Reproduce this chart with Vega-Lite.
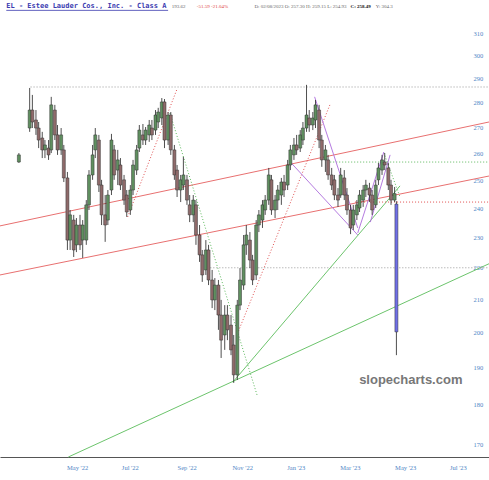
{
  "$schema": "https://vega.github.io/schema/vega-lite/v6.json",
  "width": 489,
  "height": 457,
  "autosize": "none",
  "padding": {"left": 0, "top": 0, "right": 0, "bottom": 23},
  "background": "white",
  "config": {"view": {"stroke": null}},
  "datasets": {
    "candles": [
      {"date":"2022-03-09","o":256.8,"h":260.2,"l":256.5,"c":259.5},
      {"date":"2022-03-21","o":269.9,"h":286.2,"l":268.4,"c":277.1},
      {"date":"2022-03-24","o":277.1,"h":283.3,"l":269.9,"c":272.3},
      {"date":"2022-03-28","o":273.1,"h":277.1,"l":267.2,"c":269.9},
      {"date":"2022-03-31","o":269.9,"h":272.3,"l":262.1,"c":265.2},
      {"date":"2022-04-04","o":266.0,"h":268.4,"l":258.3,"c":261.4},
      {"date":"2022-04-07","o":261.4,"h":265.2,"l":258.3,"c":263.3},
      {"date":"2022-04-11","o":262.1,"h":265.2,"l":257.6,"c":259.5},
      {"date":"2022-04-14","o":261.4,"h":282.5,"l":260.2,"c":279.2},
      {"date":"2022-04-18","o":277.1,"h":279.2,"l":265.2,"c":267.2},
      {"date":"2022-04-21","o":267.2,"h":271.1,"l":259.5,"c":261.4},
      {"date":"2022-04-25","o":261.4,"h":269.9,"l":259.5,"c":267.2},
      {"date":"2022-04-28","o":261.4,"h":263.3,"l":249.4,"c":250.9},
      {"date":"2022-05-02","o":250.9,"h":253.1,"l":225.8,"c":229.1},
      {"date":"2022-05-05","o":229.1,"h":239.4,"l":225.8,"c":237.7},
      {"date":"2022-05-09","o":235.9,"h":237.7,"l":223.5,"c":225.8},
      {"date":"2022-05-12","o":227.5,"h":236.6,"l":225.1,"c":234.2},
      {"date":"2022-05-16","o":234.2,"h":237.7,"l":225.8,"c":227.5},
      {"date":"2022-05-19","o":229.1,"h":235.9,"l":223.2,"c":234.2},
      {"date":"2022-05-23","o":229.1,"h":242.9,"l":227.5,"c":241.2},
      {"date":"2022-05-26","o":241.2,"h":253.8,"l":239.4,"c":252.0},
      {"date":"2022-05-30","o":252.0,"h":263.3,"l":250.2,"c":259.5},
      {"date":"2022-06-02","o":261.4,"h":269.9,"l":258.3,"c":267.2},
      {"date":"2022-06-06","o":265.2,"h":267.2,"l":245.8,"c":248.3},
      {"date":"2022-06-09","o":248.3,"h":250.2,"l":234.2,"c":237.7},
      {"date":"2022-06-13","o":237.7,"h":244.7,"l":228.5,"c":234.2},
      {"date":"2022-06-16","o":235.9,"h":246.5,"l":234.2,"c":244.7},
      {"date":"2022-06-20","o":246.5,"h":267.6,"l":244.7,"c":265.2},
      {"date":"2022-06-23","o":261.4,"h":263.3,"l":250.2,"c":252.0},
      {"date":"2022-06-27","o":253.8,"h":261.4,"l":248.3,"c":257.6},
      {"date":"2022-06-30","o":255.7,"h":258.3,"l":246.5,"c":248.3},
      {"date":"2022-07-04","o":250.2,"h":252.0,"l":241.2,"c":242.9},
      {"date":"2022-07-07","o":244.7,"h":246.5,"l":237.0,"c":238.7},
      {"date":"2022-07-11","o":239.4,"h":248.3,"l":237.7,"c":246.5},
      {"date":"2022-07-14","o":246.5,"h":257.6,"l":244.7,"c":255.7},
      {"date":"2022-07-18","o":253.8,"h":263.3,"l":252.0,"c":261.4},
      {"date":"2022-07-21","o":262.1,"h":271.1,"l":260.6,"c":269.1},
      {"date":"2022-07-25","o":267.2,"h":271.5,"l":263.3,"c":265.2},
      {"date":"2022-07-28","o":265.2,"h":270.3,"l":263.3,"c":269.1},
      {"date":"2022-08-01","o":267.2,"h":273.1,"l":264.5,"c":271.1},
      {"date":"2022-08-04","o":269.9,"h":273.1,"l":265.2,"c":267.2},
      {"date":"2022-08-08","o":269.1,"h":277.1,"l":267.2,"c":275.1},
      {"date":"2022-08-11","o":272.3,"h":278.0,"l":269.9,"c":276.3},
      {"date":"2022-08-15","o":273.9,"h":282.0,"l":271.1,"c":280.4},
      {"date":"2022-08-18","o":280.4,"h":281.6,"l":262.1,"c":265.2},
      {"date":"2022-08-22","o":265.2,"h":276.3,"l":263.3,"c":275.1},
      {"date":"2022-08-25","o":275.1,"h":276.3,"l":259.5,"c":261.4},
      {"date":"2022-08-29","o":261.4,"h":263.3,"l":250.2,"c":252.0},
      {"date":"2022-09-01","o":253.8,"h":255.7,"l":244.0,"c":246.5},
      {"date":"2022-09-05","o":246.5,"h":252.0,"l":242.2,"c":250.2},
      {"date":"2022-09-08","o":248.3,"h":258.7,"l":246.5,"c":252.0},
      {"date":"2022-09-12","o":250.2,"h":252.0,"l":241.2,"c":242.9},
      {"date":"2022-09-15","o":241.2,"h":244.7,"l":235.2,"c":237.7},
      {"date":"2022-09-19","o":237.7,"h":244.7,"l":235.2,"c":242.9},
      {"date":"2022-09-22","o":241.2,"h":242.9,"l":227.5,"c":230.8},
      {"date":"2022-09-26","o":230.8,"h":234.2,"l":221.9,"c":224.2},
      {"date":"2022-09-29","o":224.2,"h":225.8,"l":215.5,"c":217.7},
      {"date":"2022-10-03","o":219.3,"h":229.1,"l":217.7,"c":225.8},
      {"date":"2022-10-06","o":225.8,"h":227.5,"l":214.5,"c":216.1},
      {"date":"2022-10-10","o":216.1,"h":219.3,"l":207.4,"c":209.9},
      {"date":"2022-10-13","o":209.9,"h":216.7,"l":206.8,"c":214.5},
      {"date":"2022-10-17","o":214.5,"h":216.1,"l":200.9,"c":205.3},
      {"date":"2022-10-20","o":205.3,"h":209.9,"l":192.8,"c":197.9},
      {"date":"2022-10-24","o":199.4,"h":208.3,"l":195.1,"c":205.3},
      {"date":"2022-10-27","o":205.3,"h":208.3,"l":197.9,"c":200.9},
      {"date":"2022-10-31","o":202.3,"h":205.3,"l":193.6,"c":195.1},
      {"date":"2022-11-03","o":196.5,"h":199.4,"l":185.9,"c":188.1},
      {"date":"2022-11-07","o":188.1,"h":209.9,"l":186.7,"c":208.3},
      {"date":"2022-11-10","o":208.3,"h":219.9,"l":206.8,"c":216.1},
      {"date":"2022-11-14","o":214.5,"h":230.8,"l":213.0,"c":227.5},
      {"date":"2022-11-17","o":227.5,"h":234.2,"l":224.2,"c":230.8},
      {"date":"2022-11-21","o":229.1,"h":231.8,"l":219.9,"c":222.5},
      {"date":"2022-11-24","o":222.5,"h":224.2,"l":214.5,"c":216.1},
      {"date":"2022-11-28","o":217.7,"h":235.9,"l":216.1,"c":234.2},
      {"date":"2022-12-01","o":234.2,"h":239.4,"l":231.8,"c":237.7},
      {"date":"2022-12-05","o":235.9,"h":242.9,"l":233.2,"c":241.2},
      {"date":"2022-12-08","o":239.4,"h":244.7,"l":237.7,"c":242.9},
      {"date":"2022-12-12","o":242.9,"h":254.6,"l":241.2,"c":252.0},
      {"date":"2022-12-15","o":250.2,"h":252.0,"l":237.7,"c":239.4},
      {"date":"2022-12-19","o":239.4,"h":244.7,"l":236.6,"c":242.9},
      {"date":"2022-12-22","o":242.9,"h":248.3,"l":239.4,"c":246.5},
      {"date":"2022-12-26","o":244.7,"h":250.9,"l":241.2,"c":249.4},
      {"date":"2022-12-29","o":249.4,"h":252.0,"l":244.0,"c":246.5},
      {"date":"2023-01-02","o":248.3,"h":257.6,"l":246.5,"c":255.7},
      {"date":"2023-01-05","o":255.7,"h":263.3,"l":253.8,"c":261.4},
      {"date":"2023-01-09","o":259.5,"h":266.0,"l":257.6,"c":263.3},
      {"date":"2023-01-12","o":263.3,"h":267.2,"l":259.5,"c":261.4},
      {"date":"2023-01-16","o":262.1,"h":269.1,"l":260.6,"c":267.2},
      {"date":"2023-01-19","o":265.2,"h":272.3,"l":263.3,"c":269.9},
      {"date":"2023-01-23","o":269.9,"h":287.5,"l":268.4,"c":275.1},
      {"date":"2023-01-26","o":273.9,"h":277.1,"l":268.4,"c":271.1},
      {"date":"2023-01-30","o":271.1,"h":276.3,"l":269.1,"c":273.9},
      {"date":"2023-02-02","o":273.1,"h":281.2,"l":269.9,"c":279.2},
      {"date":"2023-02-06","o":277.1,"h":279.2,"l":262.1,"c":265.2},
      {"date":"2023-02-09","o":265.2,"h":267.2,"l":255.0,"c":257.6},
      {"date":"2023-02-13","o":257.6,"h":263.3,"l":253.1,"c":261.4},
      {"date":"2023-02-16","o":257.6,"h":259.5,"l":250.2,"c":252.0},
      {"date":"2023-02-20","o":252.0,"h":254.6,"l":246.5,"c":248.3},
      {"date":"2023-02-23","o":250.2,"h":252.0,"l":242.9,"c":244.7},
      {"date":"2023-02-27","o":244.7,"h":247.2,"l":240.5,"c":242.9},
      {"date":"2023-03-02","o":244.7,"h":254.6,"l":243.7,"c":252.0},
      {"date":"2023-03-06","o":250.9,"h":253.8,"l":242.9,"c":244.7},
      {"date":"2023-03-09","o":244.7,"h":247.2,"l":237.7,"c":239.4},
      {"date":"2023-03-13","o":239.4,"h":241.2,"l":231.1,"c":233.2},
      {"date":"2023-03-16","o":234.2,"h":241.2,"l":232.5,"c":239.4},
      {"date":"2023-03-20","o":237.7,"h":242.9,"l":235.9,"c":241.2},
      {"date":"2023-03-23","o":240.1,"h":246.5,"l":238.7,"c":244.7},
      {"date":"2023-03-27","o":242.9,"h":248.3,"l":240.5,"c":246.5},
      {"date":"2023-03-30","o":246.5,"h":250.2,"l":244.0,"c":248.3},
      {"date":"2023-04-03","o":247.2,"h":249.1,"l":242.2,"c":244.7},
      {"date":"2023-04-06","o":244.7,"h":246.5,"l":237.7,"c":239.4},
      {"date":"2023-04-10","o":241.2,"h":250.2,"l":240.1,"c":248.3},
      {"date":"2023-04-13","o":250.2,"h":256.5,"l":248.3,"c":254.6},
      {"date":"2023-04-17","o":253.8,"h":259.5,"l":252.0,"c":257.6},
      {"date":"2023-04-20","o":256.8,"h":260.2,"l":253.8,"c":255.7},
      {"date":"2023-04-24","o":254.6,"h":256.5,"l":246.5,"c":248.3},
      {"date":"2023-04-27","o":248.3,"h":250.2,"l":241.2,"c":242.9},
      {"date":"2023-05-01","o":242.9,"h":247.6,"l":242.2,"c":245.2},
      {"date":"2023-05-03","o":241.5,"h":242.5,"l":193.6,"c":200.3}
    ],
    "lines": [
      {"line":"channel_top","date":"2022-02-16","price":233.9},{"line":"channel_top","date":"2023-08-14","price":272.3},
      {"line":"channel_bottom","date":"2022-02-16","price":217.7},{"line":"channel_bottom","date":"2023-08-14","price":251.6},
      {"line":"support_long","date":"2022-05-03","price":166.8},{"line":"support_long","date":"2023-08-14","price":221.3},
      {"line":"support_rise","date":"2022-11-02","price":186.1},{"line":"support_rise","date":"2023-05-07","price":248.0},
      {"line":"level_287","date":"2022-03-22","price":286.6},{"line":"level_287","date":"2023-08-14","price":286.6},
      {"line":"level_220","date":"2022-10-08","price":220.0},{"line":"level_220","date":"2023-08-14","price":220.0},
      {"line":"level_257","date":"2023-02-15","price":256.8},{"line":"level_257","date":"2023-08-14","price":256.8},
      {"line":"level_242","date":"2023-03-18","price":242.2},{"line":"level_242","date":"2023-08-14","price":242.2},
      {"line":"trend_jul","date":"2022-07-08","price":237.0},{"line":"trend_jul","date":"2022-09-01","price":285.8},
      {"line":"trend_nov","date":"2022-11-07","price":199.7},{"line":"trend_nov","date":"2023-02-18","price":279.2},
      {"line":"fall_aug","date":"2022-08-24","price":275.9},{"line":"fall_aug","date":"2022-11-29","price":182.6},
      {"line":"fall_apr","date":"2023-04-19","price":260.3},{"line":"fall_apr","date":"2023-05-07","price":244.0},
      {"line":"wedge_a","date":"2023-02-01","price":282.5},{"line":"wedge_a","date":"2023-03-21","price":233.2},
      {"line":"wedge_b","date":"2023-01-05","price":256.8},{"line":"wedge_b","date":"2023-03-21","price":230.8},
      {"line":"wedge_c","date":"2023-03-21","price":231.5},{"line":"wedge_c","date":"2023-04-19","price":260.6},
      {"line":"wedge_d","date":"2023-04-04","price":235.2},{"line":"wedge_d","date":"2023-04-26","price":259.5}
    ]
  },
  "layer": [
    {
      "encoding": {
        "x": {
          "field": "date", "type": "temporal", "title": null,
          "scale": {"type": "utc", "nice": false, "padding": 0, "domain": [{"year": 2022, "month": 2, "date": 16, "utc": true}, {"year": 2023, "month": 8, "date": 14, "utc": true}]},
          "axis": {
            "values": [
              {"year": 2022, "month": 5, "date": 1, "utc": true},
              {"year": 2022, "month": 7, "date": 1, "utc": true},
              {"year": 2022, "month": 9, "date": 1, "utc": true},
              {"year": 2022, "month": 11, "date": 1, "utc": true},
              {"year": 2023, "month": 1, "date": 1, "utc": true},
              {"year": 2023, "month": 3, "date": 1, "utc": true},
              {"year": 2023, "month": 5, "date": 1, "utc": true},
              {"year": 2023, "month": 7, "date": 1, "utc": true}
            ],
            "labelExpr": "utcFormat(datum.value, \"%b '%y\")",
            "labelFont": "Liberation Serif", "labelFontSize": 6.5, "labelColor": "#4f86c6",
            "labelAlign": "left", "labelDx": 5, "labelPadding": 7, "labelFlush": false, "labelOverlap": false,
            "ticks": false, "grid": false, "domainColor": "#555555", "domainWidth": 1, "title": null
          }
        }
      },
      "layer": [
        {
          "data": {"name": "lines"},
          "transform": [{"filter": {"field": "line", "oneOf": ["channel_top", "channel_bottom"]}}],
          "mark": {"type": "line", "color": "#e87070", "strokeWidth": 1},
          "encoding": {
            "y": {"field": "price", "type": "quantitative", "title": null,
                  "scale": {"type": "log", "domain": [166.8, 325.5], "nice": false, "zero": false},
                  "axis": {"orient": "right", "offset": -16, "values": [170,180,190,200,210,220,230,240,250,260,270,280,290,300,310],
                           "format": "d", "labelFont": "Liberation Serif", "labelFontSize": 6.5, "labelColor": "#4f86c6",
                           "labelAlign": "left", "labelBaseline": "middle", "labelPadding": 0, "labelFlush": false, "labelOverlap": false,
                           "ticks": false, "domain": false, "grid": false, "title": null}},
            "detail": {"field": "line"}
          }
        },
        {
          "data": {"name": "lines"},
          "transform": [{"filter": {"field": "line", "oneOf": ["support_long", "support_rise"]}}],
          "mark": {"type": "line", "color": "#6cc46c", "strokeWidth": 1},
          "encoding": {
            "y": {"field": "price", "type": "quantitative", "title": null, "scale": {"type": "log", "domain": [166.8, 325.5], "nice": false, "zero": false}},
            "detail": {"field": "line"}
          }
        },
        {
          "data": {"name": "lines"},
          "transform": [{"filter": {"field": "line", "oneOf": ["level_287", "level_220"]}}],
          "mark": {"type": "line", "color": "#999999", "strokeWidth": 1, "strokeDash": [1, 2]},
          "encoding": {
            "y": {"field": "price", "type": "quantitative", "title": null, "scale": {"type": "log", "domain": [166.8, 325.5], "nice": false, "zero": false}},
            "detail": {"field": "line"}
          }
        },
        {
          "data": {"name": "lines"},
          "transform": [{"filter": {"field": "line", "oneOf": ["level_257", "fall_aug", "fall_apr"]}}],
          "mark": {"type": "line", "color": "#5cb85c", "strokeWidth": 1, "strokeDash": [1, 2]},
          "encoding": {
            "y": {"field": "price", "type": "quantitative", "title": null, "scale": {"type": "log", "domain": [166.8, 325.5], "nice": false, "zero": false}},
            "detail": {"field": "line"}
          }
        },
        {
          "data": {"name": "lines"},
          "transform": [{"filter": {"field": "line", "oneOf": ["level_242", "trend_jul", "trend_nov"]}}],
          "mark": {"type": "line", "color": "#e05050", "strokeWidth": 1, "strokeDash": [1, 2]},
          "encoding": {
            "y": {"field": "price", "type": "quantitative", "title": null, "scale": {"type": "log", "domain": [166.8, 325.5], "nice": false, "zero": false}},
            "detail": {"field": "line"}
          }
        },
        {
          "data": {"name": "lines"},
          "transform": [{"filter": {"field": "line", "oneOf": ["wedge_a", "wedge_b", "wedge_c", "wedge_d"]}}],
          "mark": {"type": "line", "color": "#b57be0", "strokeWidth": 1},
          "encoding": {
            "y": {"field": "price", "type": "quantitative", "title": null, "scale": {"type": "log", "domain": [166.8, 325.5], "nice": false, "zero": false}},
            "detail": {"field": "line"}
          }
        },
        {
          "data": {"name": "candles"},
          "mark": {"type": "rule", "color": "#222222", "strokeWidth": 0.8},
          "encoding": {
            "y": {"field": "l", "type": "quantitative", "title": null, "scale": {"type": "log", "domain": [166.8, 325.5], "nice": false, "zero": false}},
            "y2": {"field": "h"}
          }
        },
        {
          "data": {"name": "candles"},
          "transform": [{"calculate": "datum.c < datum.o * 0.9 ? 'plunge' : (datum.c >= datum.o ? 'up' : 'down')", "as": "dir"}],
          "mark": {"type": "bar", "width": 3, "stroke": "#333333", "strokeWidth": 0.5},
          "encoding": {
            "y": {"field": "o", "type": "quantitative", "title": null, "scale": {"type": "log", "domain": [166.8, 325.5], "nice": false, "zero": false}},
            "y2": {"field": "c"},
            "color": {"field": "dir", "type": "nominal", "scale": {"domain": ["up", "down", "plunge"], "range": ["#5f8f5f", "#8f6a6a", "#6f6fe8"]}, "legend": null}
          }
        }
      ]
    },
    {
      "data": {"values": [{}]},
      "mark": {"type": "text", "text": "slopecharts.com", "font": "Liberation Sans", "fontWeight": "bold", "fontSize": 13, "color": "#777777", "align": "center", "baseline": "middle"},
      "encoding": {
        "x": {"datum": {"year": 2023, "month": 5, "date": 19, "utc": true}, "type": "temporal"},
        "y": {"datum": 186.7, "type": "quantitative"}
      }
    },
    {
      "data": {"values": [{}]},
      "mark": {"type": "text", "text": "EL - Estee Lauder Cos., Inc. - Class A", "font": "DejaVu Sans Mono", "fontWeight": "bold", "fontSize": 7, "color": "#3b3bb0", "align": "left", "baseline": "middle"},
      "encoding": {
        "x": {"datum": {"year": 2022, "month": 2, "date": 23, "utc": true}, "type": "temporal"},
        "y": {"datum": 322.7, "type": "quantitative"}
      }
    },
    {
      "data": {"values": [{}]},
      "mark": {"type": "rule", "color": "#3b3bb0", "strokeWidth": 0.8},
      "encoding": {
        "x": {"datum": {"year": 2022, "month": 2, "date": 23, "utc": true}, "type": "temporal"},
        "x2": {"datum": {"year": 2022, "month": 8, "date": 22, "utc": true}},
        "y": {"datum": 320.6, "type": "quantitative"}
      }
    },
    {
      "data": {"values": [{}]},
      "mark": {"type": "text", "text": "193.62", "font": "Liberation Serif", "fontSize": 5, "color": "#666666", "align": "left", "baseline": "middle"},
      "encoding": {
        "x": {"datum": {"year": 2022, "month": 8, "date": 26, "utc": true}, "type": "temporal"},
        "y": {"datum": 322.7, "type": "quantitative"}
      }
    },
    {
      "data": {"values": [{}]},
      "mark": {"type": "text", "text": "-51.59 -21.04%", "font": "Liberation Serif", "fontSize": 5, "color": "#e04040", "align": "left", "baseline": "middle"},
      "encoding": {
        "x": {"datum": {"year": 2022, "month": 9, "date": 23, "utc": true}, "type": "temporal"},
        "y": {"datum": 322.7, "type": "quantitative"}
      }
    },
    {
      "data": {"values": [{}]},
      "mark": {"type": "text", "text": "D: 02/08/2023 O: 257.30 H: 259.15 L: 254.93", "font": "Liberation Serif", "fontSize": 5, "color": "#666666", "align": "left", "baseline": "middle"},
      "encoding": {
        "x": {"datum": {"year": 2022, "month": 11, "date": 26, "utc": true}, "type": "temporal"},
        "y": {"datum": 322.7, "type": "quantitative"}
      }
    },
    {
      "data": {"values": [{}]},
      "mark": {"type": "text", "text": "C: 258.49", "font": "Liberation Serif", "fontWeight": "bold", "fontSize": 5, "color": "#111111", "align": "left", "baseline": "middle"},
      "encoding": {
        "x": {"datum": {"year": 2023, "month": 3, "date": 13, "utc": true}, "type": "temporal"},
        "y": {"datum": 322.7, "type": "quantitative"}
      }
    },
    {
      "data": {"values": [{}]},
      "mark": {"type": "text", "text": "Y: 304.3", "font": "Liberation Serif", "fontSize": 5, "color": "#666666", "align": "left", "baseline": "middle"},
      "encoding": {
        "x": {"datum": {"year": 2023, "month": 4, "date": 10, "utc": true}, "type": "temporal"},
        "y": {"datum": 322.7, "type": "quantitative"}
      }
    }
  ]
}
